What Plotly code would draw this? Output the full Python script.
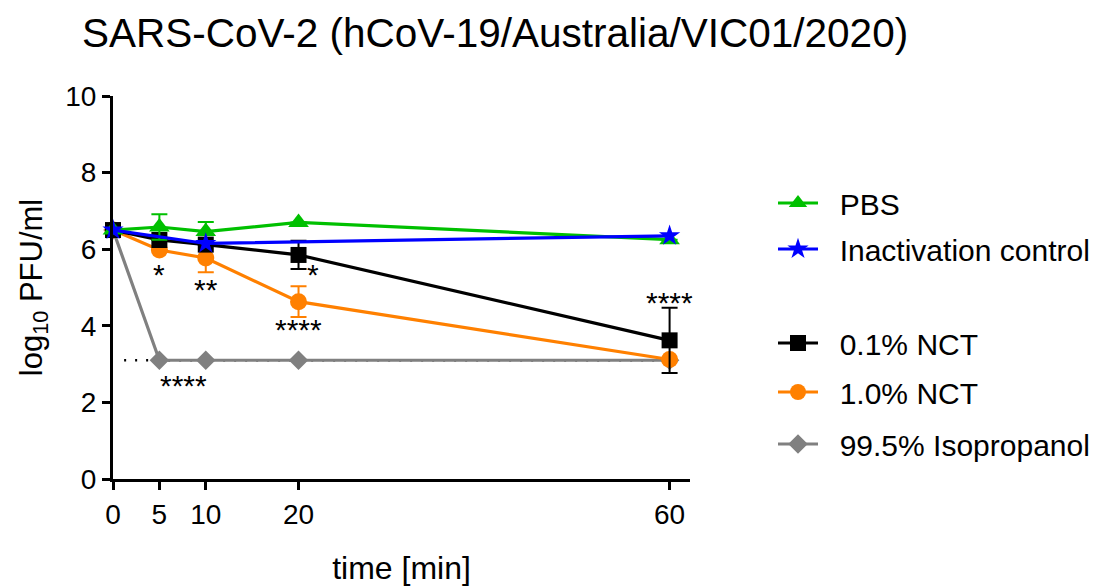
import plotly.graph_objects as go

# ---- data ----
time_all = [0, 5, 10, 20, 60]
pbs = [6.5, 6.58, 6.46, 6.7, 6.25]
pbs_err = [0.0, 0.33, 0.25, 0.0, 0.0]
ctrl_time = [0, 10, 60]
ctrl = [6.5, 6.15, 6.35]
nct01 = [6.5, 6.24, 6.12, 5.85, 3.62]
nct01_err = [0.0, 0.0, 0.0, 0.37, 0.85]
nct10 = [6.5, 5.98, 5.77, 4.63, 3.12]
nct10_err = [0.0, 0.0, 0.37, 0.4, 0.0]
iso = [6.5, 3.1, 3.1, 3.1, 3.1]
lod = 3.1
lod_time = [1.2, 60]

x_ticks = [0, 5, 10, 20, 60]
y_ticks = [0, 2, 4, 6, 8, 10]

# significance labels
sig_x = [5, 10, 21.6, 20, 60, 7.6]
sig_y = [5.35, 4.95, 5.35, 3.9, 4.62, 2.45]
sig_txt = ["*", "**", "*", "****", "****", "****"]

FONT = "Liberation Sans, Arial, sans-serif"

# plot-area geometry (px) used to place legend entries
L, R, T, B = 113, 420, 96, 109
W, H = 1110, 588
PW, PH = W - L - R, H - T - B

fig = go.Figure()

# detection-limit dotted line
fig.add_trace(go.Scatter(x=lod_time, y=[lod, lod], mode="lines",
                         line=dict(color="black", width=2.5, dash="2px,9px"),
                         showlegend=False, hoverinfo="skip", cliponaxis=False))

def add(name, x, y, color, symbol, size, leg, err=None):
    fig.add_trace(go.Scatter(
        x=x, y=y, name="\u00a0\u00a0" + name, mode="lines+markers",
        line=dict(color=color, width=3.2),
        marker=dict(color=color, symbol=symbol, size=size, line=dict(width=0)),
        error_y=(dict(type="data", array=err, visible=True, color=color,
                      thickness=2, width=8) if err is not None else None),
        legend=leg, cliponaxis=False))

# drawn bottom -> top
add("99.5% Isopropanol", time_all, iso, "#808080", "diamond", 15, "legend5")
add("1.0% NCT", time_all, nct10, "#ff8000", "circle", 17, "legend4", nct10_err)
add("0.1% NCT", time_all, nct01, "#000000", "square", 16, "legend3", nct01_err)
add("PBS", time_all, pbs, "#00c000", "triangle-up", 18, "legend", pbs_err)
add("Inactivation control", ctrl_time, ctrl, "#0000ff", "star", 16, "legend2")

for xv, yv, t in zip(sig_x, sig_y, sig_txt):
    fig.add_annotation(x=xv, y=yv, text=t, showarrow=False,
                       font=dict(family=FONT, size=30, color="black"),
                       xanchor="center", yanchor="middle")

legend_ypx = {"legend": 203, "legend2": 249, "legend3": 343, "legend4": 392, "legend5": 444}
leg_x = (773 - L) / PW
legends = {}
for key, ypx in legend_ypx.items():
    legends[key] = dict(x=leg_x, y=(H - B - ypx) / PH, xanchor="left", yanchor="middle",
                        font=dict(family=FONT, size=30, color="black"),
                        itemwidth=40, bgcolor="rgba(0,0,0,0)")

fig.update_layout(
    width=W, height=H,
    margin=dict(l=L, r=R, t=T, b=B, autoexpand=False),
    plot_bgcolor="rgba(0,0,0,0)", paper_bgcolor="white",
    font=dict(family=FONT, color="black"),
    title=dict(text="SARS-CoV-2 (hCoV-19/Australia/VIC01/2020)",
               font=dict(family=FONT, size=40.5, color="black"),
               x=82 / W, xanchor="left", y=1 - 33 / H, yanchor="middle"),
    showlegend=True,
    **legends,
)

fig.update_xaxes(range=[0, 62.2], tickvals=x_ticks, ticktext=[str(v) for v in x_ticks],
                 showline=True, linecolor="black", linewidth=3,
                 ticks="outside", ticklen=8, tickwidth=3, tickcolor="black",
                 showgrid=False, zeroline=False, automargin=False,
                 tickfont=dict(family=FONT, size=28, color="black"),
                 title=dict(text="time [min]", font=dict(family=FONT, size=32, color="black"),
                            standoff=29))
fig.update_yaxes(range=[0, 10], tickvals=y_ticks,
                 showline=True, linecolor="black", linewidth=3,
                 ticks="outside", ticklen=8, tickwidth=3, tickcolor="black",
                 showgrid=False, zeroline=False, automargin=False,
                 tickfont=dict(family=FONT, size=28, color="black"),
                 title=dict(text="log<sub>10</sub> PFU/ml", font=dict(family=FONT, size=31, color="black"),
                            standoff=14))

fig.write_html("out.html")
